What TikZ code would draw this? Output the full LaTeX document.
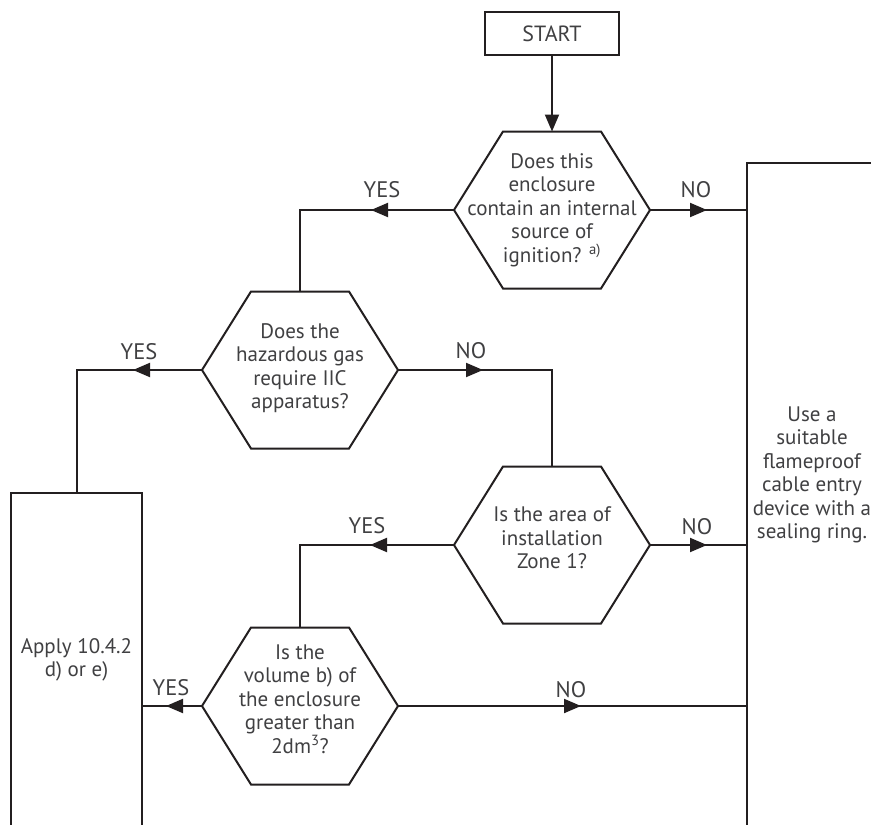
\documentclass[tikz,border=0pt]{standalone}
\usepackage{fontspec}
\setmainfont{PT Sans}
\usetikzlibrary{arrows.meta,calc}
\definecolor{ink}{HTML}{231F20}
\definecolor{txtc}{HTML}{404042}
\tikzset{
  ln/.style={draw=ink, line width=2pt, line join=miter},
  arr/.style={draw=ink, line width=2pt, -{Triangle[length=17pt,width=14pt]}},
  txt/.style={text=txtc, font=\fontsize{21}{23.5}\selectfont, align=center, inner sep=0pt},
  lbl/.style={text=txtc, font=\fontsize{22.5}{24}\selectfont, inner sep=0pt},
  boxnode/.style={draw=ink, line width=2pt, txt},
}
\newcommand\mkhex[3]{%
  \coordinate (#1) at (#2,#3);
  \coordinate (#1N) at ($(#1)+(0,-78.5)$);
  \coordinate (#1S) at ($(#1)+(0,78.5)$);
  \coordinate (#1E) at ($(#1)+(98,0)$);
  \coordinate (#1W) at ($(#1)+(-98,0)$);
  \draw[ln] ($(#1)+(-49,-78.5)$) -- ($(#1)+(49,-78.5)$) -- (#1E) -- ($(#1)+(49,78.5)$) -- ($(#1)+(-49,78.5)$) -- (#1W) -- cycle;
}
\begin{document}
\begin{tikzpicture}[x=1pt,y=-1pt]
\clip (0,0) rectangle (871,825);
\fill[white] (0,0) rectangle (871,825);

% start
\node[boxnode, font=\fontsize{22}{24}\selectfont, minimum width=134pt, minimum height=43pt] (start) at (552,33.5) {START};

% hexagons
\mkhex{hA}{552}{210}
\mkhex{hB}{300}{370}
\mkhex{hC}{552}{545}
\mkhex{hD}{300}{706}

\node[txt] (tA) at (552,210) {Does this\\enclosure\\contain an internal\\source of\\ignition? \textsuperscript{a)}};
\node[txt] (tB) at (300,368) {Does the\\hazardous gas\\require IIC\\apparatus?};
\node[txt] (tC) at (552,538) {Is the area of\\installation\\Zone 1?};
\node[txt] (tD) at (300,699) {Is the\\volume b) of\\the enclosure\\greater than\\2dm\textsuperscript{3}?};

% left box
\node[boxnode, minimum width=131pt, minimum height=334pt] (abox) at (76.5,660) {Apply 10.4.2\\d) or e)};

% right box
\coordinate (rtop) at (747,163);
\draw[ln] (747,840) -- (rtop) -- (890,163);
\node[txt] (use) at (812,475) {Use a\\suitable\\flameproof\\cable entry\\device with a\\sealing ring.};

% arrow tip positions
\coordinate (pA) at (707,210);
\coordinate (pAy) at (371,210);
\coordinate (pBy) at (133,370);
\coordinate (pBn) at (483,370);
\coordinate (pC) at (707,545);
\coordinate (pCy) at (370,545);
\coordinate (pDy) at (166,706);
\coordinate (pDn) at (581,706);

% connectors
\draw[arr] (start.south) -- (hAN);

\draw[ln] (hAE) -- (hAE -| rtop);
\draw[arr] (hAE) -- (pA);
\draw[ln] (hAW) -- (hAW -| hBN) -- (hBN);
\draw[arr] (hAW) -- (pAy);

\draw[ln] (hBW) -- (hBW -| abox.north) -- (abox.north);
\draw[arr] (hBW) -- (pBy);
\draw[ln] (hBE) -- (hBE -| hCN) -- (hCN);
\draw[arr] (hBE) -- (pBn);

\draw[ln] (hCE) -- (hCE -| rtop);
\draw[arr] (hCE) -- (pC);
\draw[ln] (hCW) -- (hCW -| hDN) -- (hDN);
\draw[arr] (hCW) -- (pCy);

\draw[ln] (hDW) -- (hDW -| abox.east);
\draw[arr] (hDW) -- (pDy);
\draw[ln] (hDE) -- (hDE -| rtop);
\draw[arr] (hDE) -- (pDn);

% labels
\node[lbl] (lA) at (696,190) {NO};
\node[lbl] (lAy) at (382,190) {YES};
\node[lbl] (lBy) at (139,352) {YES};
\node[lbl] (lBn) at (471,351) {NO};
\node[lbl] (lC) at (697,527) {NO};
\node[lbl] (lCy) at (367,526) {YES};
\node[lbl] (lDy) at (171,688) {YES};
\node[lbl] (lDn) at (571,690) {NO};
\end{tikzpicture}
\end{document}
